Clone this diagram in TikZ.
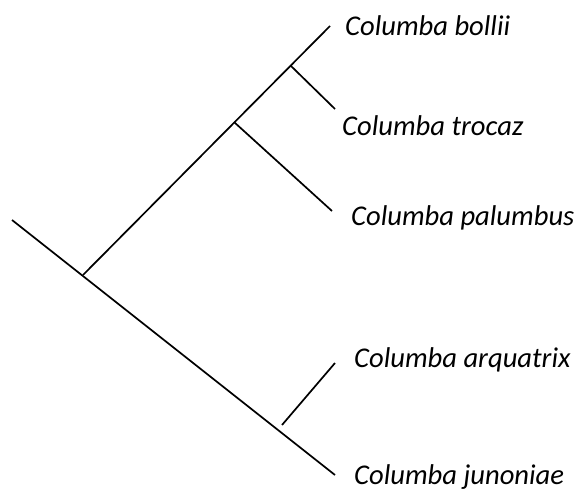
\documentclass[tikz,border=0pt]{standalone}
\usepackage{fontspec}
\setmainfont{Carlito}
\begin{document}
\begin{tikzpicture}[x=1pt,y=-1pt,
  branch/.style={line width=1.7pt,black},
  taxon/.style={anchor=base west,inner sep=0pt,font=\fontsize{28.6}{34}\selectfont\itshape}]
\useasboundingbox (0,0) rectangle (581,490);
% junctions and tips
\coordinate (root) at (12,220);
\coordinate (j1) at (83,275);
\coordinate (j2) at (234,122);
\coordinate (j3) at (291,66);
\coordinate (tBol) at (330,26);
\coordinate (tTro) at (335,109);
\coordinate (tPal) at (332,211);
\coordinate (aLow) at (282,425);
\coordinate (tArq) at (335,363);
\coordinate (tJun) at (335,475);
% labels
\node[taxon] (bol) at (345,35) {Columba bollii};
\node[taxon] (tro) at (342,135) {Columba trocaz};
\node[taxon] (pal) at (351,225) {Columba palumbus};
\node[taxon] (arq) at (354,367) {Columba arquatrix};
\node[taxon] (jun) at (354,484) {Columba junoniae};
% branches
\draw[branch] (root) -- (tJun);
\draw[branch] (j1) -- (tBol);
\draw[branch] (j2) -- (tPal);
\draw[branch] (j3) -- (tTro);
\draw[branch] (aLow) -- (tArq);
\end{tikzpicture}
\end{document}
